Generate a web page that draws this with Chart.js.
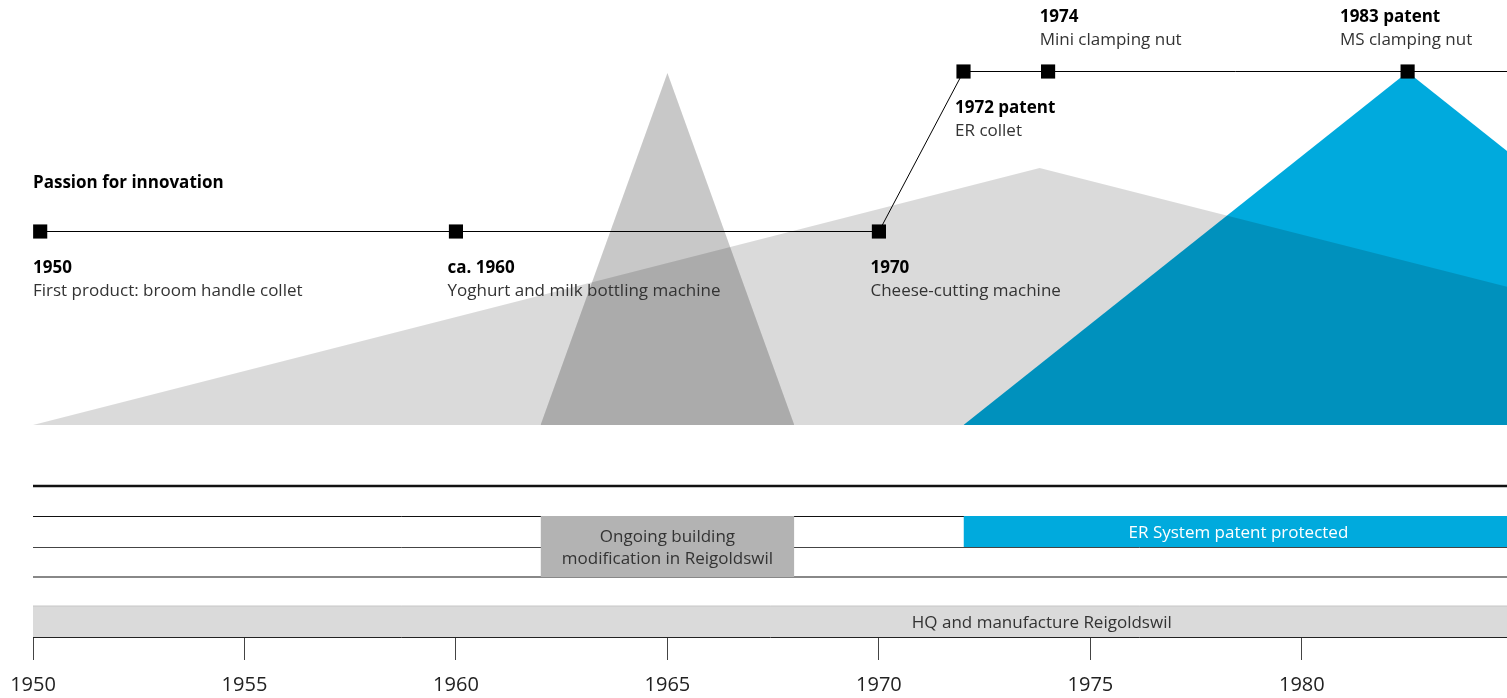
<!DOCTYPE html>
<html>
<head>
<meta charset="utf-8">
<script src="https://cdn.jsdelivr.net/npm/chart.js@4.4.0/dist/chart.umd.min.js"></script>
<style>
  html, body { margin: 0; padding: 0; background: #fff; }
</style>
</head>
<body>
<canvas id="chart" width="1507" height="698"></canvas>
<script>
// x = year, y = height in free units (base of the big shapes = 0)
const axisTicks = [1950, 1955, 1960, 1965, 1970, 1975, 1980];

// big shapes: [year, height]
const hqShape = [[1950, 0], [1973.8, 25.7], [1997.7, 0]];
const buildingShape = [[1962, 0], [1965, 35.2], [1968, 0]];
const erShape = [[1972, 0], [1982.5, 35.3], [1993, 0]];

// milestones on the timeline
const timelinePath = [[1950.17, 19.35], [1970, 19.35], [1972, 35.35], [1990, 35.35]];
const eventYears = [1950.17, 1960, 1970, 1972, 1974, 1982.5];
const eventLevels = [19.35, 19.35, 19.35, 35.35, 35.35, 35.35];
const eventLabelYears = [1950, 1959.8, 1969.8, 1971.8, 1973.8, 1980.9];
const eventTitles = ['1950', 'ca. 1960', '1970', '1972 patent', '1974', '1983 patent'];
const eventTexts = ['First product: broom handle collet', 'Yoghurt and milk bottling machine',
  'Cheese-cutting machine', 'ER collet', 'Mini clamping nut', 'MS clamping nut'];
const eventSide = ['below', 'below', 'below', 'below', 'above', 'above'];

// lower rows
const rowLines = [-6.1, -9.15, -12.25, -15.2];
const periodLabels = [['Ongoing building', 'modification in Reigoldswil'], ['ER System patent protected'], ['HQ and manufacture Reigoldswil']];
const periodStart = [1962, 1972, 1950];
const periodEnd = [1968, 1985, 1997.7];
const periodTop = [-9.1, -9.1, -18.1];
const periodBottom = [-15.2, -12.2, -21.2];

const rowLineWidths = [2.5, 1, 1, 2];
const rowLineColors = ['#111', '#111', '#444', '#888'];
const periodColors = ['#b3b3b3', '#00aadd', '#dadada'];
const periodTextColors = ['#333', '#fff', '#333'];
const FONT = "'Open Sans', sans-serif";

const pts = arr => arr.map(p => ({ x: p[0], y: p[1] }));

const datasets = [];
datasets.push({ data: pts(erShape), backgroundColor: '#00aadd', fill: 'origin', borderWidth: 0, pointRadius: 0, order: 20 });
datasets.push({ data: pts(hqShape), backgroundColor: 'rgba(0,0,0,0.145)', fill: 'origin', borderWidth: 0, pointRadius: 0, order: 19 });
datasets.push({ data: pts(buildingShape), backgroundColor: 'rgba(0,0,0,0.215)', fill: 'origin', borderWidth: 0, pointRadius: 0, order: 18 });

rowLines.forEach((v, i) => {
  datasets.push({
    data: [{ x: 1950, y: v }, { x: 2000, y: v }],
    borderColor: rowLineColors[i], borderWidth: rowLineWidths[i],
    fill: false, pointRadius: 0, order: 15
  });
});

periodStart.forEach((s, i) => {
  datasets.push({
    data: [{ x: s, y: periodTop[i] }, { x: periodEnd[i], y: periodTop[i] }],
    backgroundColor: periodColors[i],
    borderColor: i === 2 ? '#c6c6c6' : periodColors[i],
    borderWidth: i === 2 ? 1 : 0,
    fill: { value: periodBottom[i] }, pointRadius: 0, order: 10
  });
});

datasets.push({ data: pts(timelinePath), borderColor: '#000', borderWidth: 1, fill: false, pointRadius: 0, order: 5 });
datasets.push({
  data: eventYears.map((yr, i) => ({ x: yr, y: eventLevels[i] })),
  showLine: false, pointStyle: 'rect', pointRadius: 10, pointBackgroundColor: '#000',
  pointBorderWidth: 0, order: 4
});

const textPlugin = {
  id: 'texts',
  afterDatasetsDraw(chart) {
    const { ctx, scales: { x, y } } = chart;
    ctx.save();
    ctx.textBaseline = 'middle';
    // heading
    ctx.textAlign = 'left';
    ctx.fillStyle = '#000';
    ctx.font = `bold 17px ${FONT}`;
    ctx.fillText('Passion for innovation', x.getPixelForValue(1950), y.getPixelForValue(19.35) - 48);

    eventYears.forEach((yr, i) => {
      const px = x.getPixelForValue(eventLabelYears[i]);
      const py = y.getPixelForValue(eventLevels[i]);
      const t1 = eventSide[i] === 'below' ? py + 37 : py - 54;
      const t2 = eventSide[i] === 'below' ? py + 60 : py - 31;
      ctx.fillStyle = '#000';
      ctx.font = `bold 17px ${FONT}`;
      ctx.fillText(eventTitles[i], px, t1);
      ctx.fillStyle = '#333';
      ctx.font = `17px ${FONT}`;
      ctx.fillText(eventTexts[i], px, t2);
    });

    ctx.textAlign = 'center';
    ctx.font = `17px ${FONT}`;
    periodLabels.forEach((lines, i) => {
      const cx = x.getPixelForValue((periodStart[i] + periodEnd[i]) / 2);
      const cy = (y.getPixelForValue(periodTop[i]) + y.getPixelForValue(periodBottom[i])) / 2 + 2;
      ctx.fillStyle = periodTextColors[i];
      lines.forEach((ln, j) => {
        ctx.fillText(ln, cx, cy + (j - (lines.length - 1) / 2) * 22);
      });
    });
    ctx.restore();
  }
};

new Chart(document.getElementById('chart'), {
  type: 'line',
  data: { datasets: datasets },
  plugins: [textPlugin],
  options: {
    responsive: false,
    animation: false,
    devicePixelRatio: 1,
    layout: { autoPadding: false, padding: { left: 33, right: 0, top: 0, bottom: 0 } },
    plugins: { legend: { display: false }, tooltip: { enabled: false } },
    scales: {
      x: {
        type: 'linear', min: 1950, max: 1984.85,
        afterBuildTicks: s => { s.ticks = axisTicks.map(v => ({ value: v })); },
        afterFit: s => { s.height = 61; s.paddingLeft = 0; s.paddingRight = 0; },
        ticks: { callback: v => String(v), color: '#222', font: { family: FONT, size: 20 }, padding: 13, maxRotation: 0, autoSkip: false },
        grid: { drawOnChartArea: false, drawTicks: true, tickLength: 23, color: '#444', lineWidth: 1 },
        border: { display: true, color: '#222', width: 1 }
      },
      y: { type: 'linear', min: -21.2, max: 42.5, display: false }
    }
  }
});
</script>
</body>
</html>
